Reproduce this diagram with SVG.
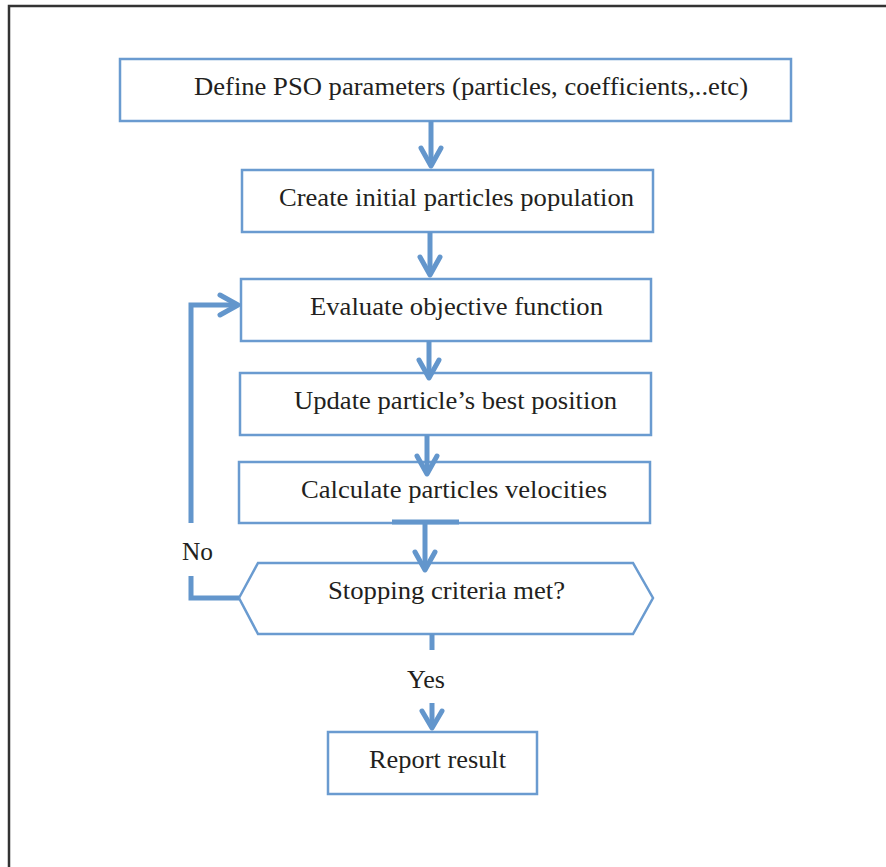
<svg xmlns="http://www.w3.org/2000/svg" width="886" height="867" viewBox="0 0 886 867">
<style>
.box{fill:#fff;stroke:#6a9bd0;stroke-width:2.5}
.t{font-family:"Liberation Serif","Times New Roman",serif;font-size:25px;fill:#231f20}
.c{fill:none;stroke:#6396cc;stroke-width:5;stroke-linecap:butt;stroke-linejoin:miter}
.h{fill:none;stroke:#6396cc;stroke-width:5;stroke-linecap:round;stroke-linejoin:round}
</style>
<rect x="0" y="0" width="886" height="867" fill="#fff"/>
<path d="M9 867 V6 H886" fill="none" stroke="#333" stroke-width="2.5"/>
<g id="n1"><rect class="box" x="120" y="59" width="671" height="62"/><text class="t" x="194" y="95" textLength="554" lengthAdjust="spacingAndGlyphs">Define PSO parameters (particles, coefficients,..etc)</text></g>
<g id="n2"><rect class="box" x="242" y="170" width="411" height="62"/><text class="t" x="279" y="206" textLength="355" lengthAdjust="spacingAndGlyphs">Create initial particles population</text></g>
<g id="n3"><rect class="box" x="241" y="279" width="410" height="62"/><text class="t" x="310" y="315" textLength="293" lengthAdjust="spacingAndGlyphs">Evaluate objective function</text></g>
<g id="n4"><rect class="box" x="240" y="373" width="411" height="62"/><text class="t" x="294" y="409" textLength="323" lengthAdjust="spacingAndGlyphs">Update particle’s best position</text></g>
<g id="n5"><rect class="box" x="239" y="462" width="411" height="61"/><text class="t" x="301" y="498" textLength="306" lengthAdjust="spacingAndGlyphs">Calculate particles velocities</text></g>
<g id="n6"><polygon class="box" points="239,598 258,563 633,563 653,598 633,634 258,634"/><text class="t" x="328" y="599" textLength="237" lengthAdjust="spacingAndGlyphs">Stopping criteria met?</text></g>
<g id="n7"><rect class="box" x="328" y="732" width="209" height="62"/><text class="t" x="369" y="768" textLength="137" lengthAdjust="spacingAndGlyphs">Report result</text></g>
<g id="connectors">
<path class="c" d="M431 121 V166"/><path class="h" d="M421 148 L431 166 L441 148"/>
<path class="c" d="M430 232 V275"/><path class="h" d="M420 257 L430 275 L440 257"/>
<path class="c" d="M429 341 V378"/><path class="h" d="M419 360 L429 378 L439 360"/>
<path class="c" d="M427 435 V474"/><path class="h" d="M417 456 L427 474 L437 456"/>
<path class="c" d="M392 522 H459"/>
<path class="c" d="M425 522 V570"/><path class="h" d="M415 552 L425 570 L435 552"/>
<path class="c" d="M432 634 V650"/>
<path class="c" d="M432 703 V728"/><path class="h" d="M422 711 L432 728 L442 711"/>
<path class="c" d="M239 598 H191 V576"/>
<path class="c" d="M191 523 V305 H238"/><path class="h" d="M220 295 L238 305 L220 315"/>
<text class="t" x="182" y="560" textLength="31" lengthAdjust="spacingAndGlyphs">No</text>
<text class="t" x="407" y="688" textLength="38" lengthAdjust="spacingAndGlyphs">Yes</text>
</g>
</svg>
